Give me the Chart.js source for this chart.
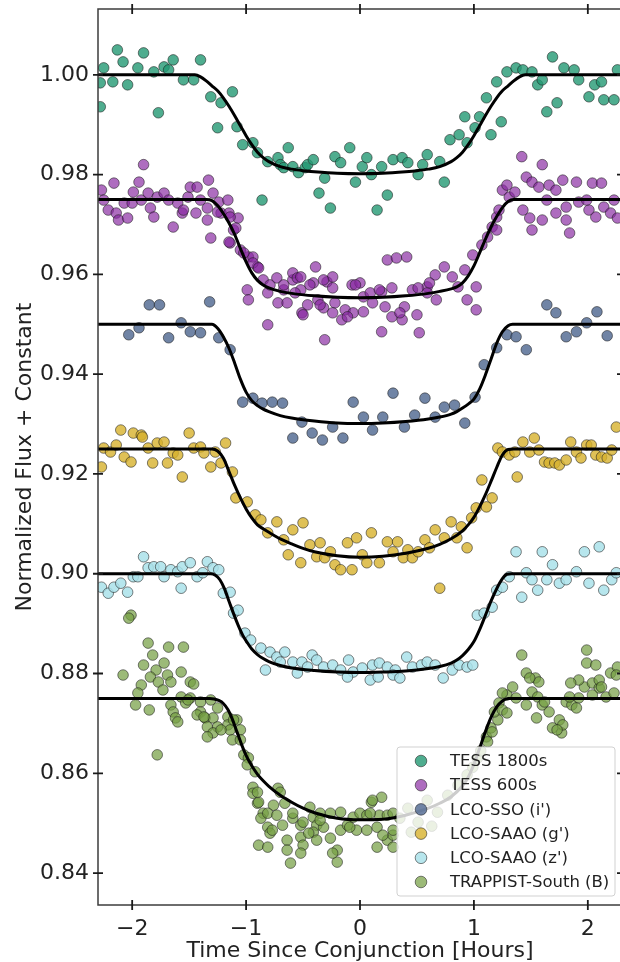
<!DOCTYPE html>
<html><head><meta charset="utf-8">
<script src="https://cdn.jsdelivr.net/npm/chart.js@4.4.0/dist/chart.umd.min.js"></script>
<style>
html,body{margin:0;padding:0;background:#fff;overflow:hidden;width:620px;height:962px}
#wrap{position:absolute;left:0;top:0;width:650px;height:962px}
</style></head>
<body><div id="wrap"><canvas id="c" width="650" height="962"></canvas></div>
<script>
const xTicks = [-2, -1, 0, 1, 2];
const yTicks = [0.84, 0.86, 0.88, 0.90, 0.92, 0.94, 0.96, 0.98, 1.00];
const xRange = [-2.3, 2.3];
const yRange = [0.8336, 1.0132];
const xTitle = 'Time Since Conjunction [Hours]';
const yTitle = 'Normalized Flux + Constant';
const seriesLabels = ['TESS 1800s', 'TESS 600s', 'LCO-SSO (i\')', 'LCO-SAAO (g\')', 'LCO-SAAO (z\')', 'TRAPPIST-South (B)'];

const tess1800 = [[-2.28,0.9936],[-2.28,0.9984],[-2.25,1.0014],[-2.17,0.9986],[-2.13,1.0050],[-2.08,1.0026],[-2.04,0.9980],[-1.95,1.0014],[-1.90,1.0044],[-1.81,1.0006],[-1.77,0.9924],[-1.72,1.0016],[-1.68,1.0010],[-1.64,1.0030],[-1.55,0.9990],[-1.46,0.9990],[-1.40,1.0030],[-1.31,0.9956],[-1.25,0.9894],[-1.22,0.9944],[-1.12,0.9966],[-1.08,0.9896],[-1.03,0.9860],[-0.94,0.9864],[-0.90,0.9844],[-0.86,0.9749],[-0.81,0.9826],[-0.72,0.9834],[-0.70,0.9820],[-0.67,0.9814],[-0.63,0.9854],[-0.59,0.9816],[-0.54,0.9804],[-0.48,0.9814],[-0.46,0.9820],[-0.41,0.9830],[-0.36,0.9763],[-0.31,0.9793],[-0.26,0.9733],[-0.22,0.9836],[-0.17,0.9824],[-0.09,0.9854],[-0.04,0.9785],[0.02,0.9816],[0.06,0.9834],[0.10,0.9800],[0.15,0.9729],[0.19,0.9816],[0.24,0.9759],[0.29,0.9830],[0.37,0.9834],[0.42,0.9824],[0.51,0.9800],[0.55,0.9820],[0.59,0.9840],[0.70,0.9826],[0.74,0.9785],[0.79,0.9870],[0.87,0.9880],[0.92,0.9916],[0.94,0.9864],[1.01,0.9894],[1.05,0.9916],[1.11,0.9954],[1.15,0.9880],[1.20,0.9986],[1.24,0.9906],[1.29,1.0006],[1.37,1.0014],[1.43,1.0010],[1.51,1.0006],[1.56,0.9980],[1.60,0.9990],[1.64,0.9926],[1.69,1.0036],[1.73,0.9944],[1.79,1.0014],[1.88,1.0010],[1.92,0.9990],[2.01,0.9956],[2.06,0.9980],[2.12,0.9986],[2.14,0.9950],[2.23,0.9950],[2.26,1.0010]];

const tess600 = [[-1.90,0.9820],[-2.27,0.9769],[-2.16,0.9783],[-2.25,0.9749],[-2.21,0.9729],[-2.14,0.9723],[-2.12,0.9709],[-2.04,0.9713],[-2.07,0.9743],[-1.99,0.9765],[-1.94,0.9785],[-2.00,0.9743],[-1.92,0.9749],[-1.86,0.9763],[-1.84,0.9733],[-1.81,0.9715],[-1.78,0.9755],[-1.72,0.9763],[-1.68,0.9749],[-1.64,0.9695],[-1.60,0.9743],[-1.56,0.9723],[-1.51,0.9755],[-1.49,0.9775],[-1.43,0.9775],[-1.40,0.9749],[-1.34,0.9733],[-1.33,0.9789],[-1.29,0.9763],[-1.24,0.9745],[-1.31,0.9673],[-1.22,0.9723],[-1.16,0.9749],[-1.15,0.9723],[-1.11,0.9689],[-1.07,0.9713],[-1.14,0.9663],[-1.05,0.9649],[-0.98,0.9635],[-0.94,0.9635],[-0.90,0.9615],[-0.99,0.9569],[-0.98,0.9549],[-0.85,0.9589],[-0.81,0.9563],[-0.79,0.9579],[-0.73,0.9593],[-0.67,0.9569],[-0.72,0.9543],[-0.64,0.9543],[-0.59,0.9589],[-0.52,0.9569],[-0.51,0.9523],[-0.46,0.9539],[-0.41,0.9583],[-0.39,0.9615],[-0.37,0.9549],[-1.55,0.9729],[-1.44,0.9723],[-1.34,0.9709],[-1.25,0.9725],[-1.14,0.9715],[-1.15,0.9665],[-1.09,0.9693],[-1.02,0.9643],[-0.94,0.9623],[-0.89,0.9613],[-0.59,0.9603],[-0.55,0.9593],[-0.67,0.9579],[-0.57,0.9563],[-0.50,0.9519],[-0.29,0.9585],[-0.24,0.9595],[-0.24,0.9573],[-0.32,0.9533],[-0.22,0.9543],[-0.16,0.9509],[-0.13,0.9529],[-0.06,0.9523],[-0.07,0.9579],[0.00,0.9583],[0.03,0.9555],[0.11,0.9543],[0.03,0.9525],[0.19,0.9565],[0.28,0.9573],[0.24,0.9629],[0.32,0.9633],[0.41,0.9635],[0.39,0.9535],[0.46,0.9569],[0.28,0.9515],[0.37,0.9509],[0.50,0.9519],[0.52,0.9483],[0.19,0.9485],[-0.81,0.9499],[-0.31,0.9469],[0.59,0.9575],[0.66,0.9599],[0.67,0.9549],[-0.52,0.9595],[-0.44,0.9579],[-0.32,0.9589],[-0.35,0.9539],[-0.24,0.9523],[-0.11,0.9515],[-0.04,0.9579],[0.09,0.9563],[0.17,0.9569],[0.22,0.9535],[0.35,0.9523],[0.51,0.9573],[0.59,0.9563],[0.61,0.9583],[0.74,0.9615],[0.81,0.9595],[0.86,0.9575],[0.92,0.9609],[0.99,0.9639],[1.02,0.9575],[0.94,0.9549],[1.02,0.9529],[1.07,0.9659],[1.12,0.9675],[1.16,0.9695],[1.20,0.9715],[1.22,0.9729],[1.20,0.9689],[1.25,0.9769],[1.31,0.9755],[1.29,0.9779],[1.36,0.9765],[1.42,0.9836],[1.46,0.9795],[1.51,0.9785],[1.60,0.9820],[1.57,0.9775],[1.66,0.9779],[1.72,0.9769],[1.78,0.9789],[1.64,0.9749],[1.43,0.9729],[1.49,0.9713],[1.51,0.9689],[1.60,0.9709],[1.72,0.9723],[1.81,0.9709],[1.84,0.9683],[1.81,0.9735],[1.90,0.9785],[1.92,0.9745],[2.04,0.9783],[2.12,0.9783],[2.01,0.9729],[2.07,0.9715],[2.14,0.9735],[2.20,0.9723],[2.23,0.9749],[2.26,0.9713],[1.99,0.9749]];

const lcoSSO = [[-1.85,0.9539],[-1.76,0.9539],[-1.32,0.9545],[-2.03,0.9479],[-1.94,0.9493],[-1.68,0.9473],[-1.57,0.9503],[-1.49,0.9485],[-1.40,0.9483],[-1.24,0.9473],[-1.14,0.9449],[-1.03,0.9344],[-0.94,0.9352],[-0.86,0.9342],[-0.77,0.9344],[-0.68,0.9342],[-0.59,0.9272],[-0.51,0.9304],[-0.42,0.9282],[-0.33,0.9268],[-0.24,0.9294],[-0.15,0.9272],[-0.06,0.9344],[0.03,0.9314],[0.11,0.9288],[0.20,0.9314],[0.29,0.9362],[0.39,0.9294],[0.48,0.9318],[0.57,0.9352],[0.66,0.9314],[0.74,0.9334],[0.83,0.9338],[0.92,0.9302],[1.01,0.9354],[1.09,0.9419],[1.20,0.9453],[1.29,0.9479],[1.37,0.9475],[1.46,0.9449],[1.64,0.9539],[1.72,0.9523],[1.81,0.9475],[1.90,0.9485],[1.99,0.9503],[2.08,0.9525],[2.17,0.9477]];

const saaoG = [[-2.27,0.9214],[-2.25,0.9252],[-2.19,0.9244],[-2.14,0.9258],[-2.10,0.9288],[-2.07,0.9234],[-2.01,0.9224],[-1.99,0.9282],[-1.92,0.9278],[-1.91,0.9274],[-1.86,0.9252],[-1.82,0.9222],[-1.78,0.9262],[-1.72,0.9264],[-1.69,0.9222],[-1.64,0.9242],[-1.60,0.9238],[-1.56,0.9194],[-1.50,0.9282],[-1.46,0.9252],[-1.40,0.9254],[-1.37,0.9242],[-1.31,0.9214],[-1.27,0.9244],[-1.22,0.9222],[-1.18,0.9262],[-1.12,0.9204],[-1.09,0.9152],[-0.99,0.9144],[-0.92,0.9118],[-0.87,0.9108],[-0.81,0.9082],[-0.73,0.9104],[-0.67,0.9068],[-0.63,0.9038],[-0.59,0.9088],[-0.52,0.9022],[-0.50,0.9102],[-0.44,0.9058],[-0.38,0.9034],[-0.35,0.9062],[-0.31,0.9032],[-0.26,0.9044],[-0.22,0.9018],[-0.17,0.9008],[-0.07,0.9008],[-0.11,0.9062],[-0.03,0.9072],[0.02,0.9038],[0.06,0.9022],[0.10,0.9082],[0.17,0.9022],[0.24,0.9064],[0.33,0.9064],[0.29,0.9044],[0.38,0.9032],[0.42,0.9048],[0.46,0.9032],[0.51,0.9044],[0.57,0.9068],[0.61,0.9052],[0.66,0.9088],[0.70,0.8971],[0.74,0.9072],[0.80,0.9104],[0.85,0.9072],[0.89,0.9094],[0.94,0.9052],[0.98,0.9112],[1.02,0.9132],[1.07,0.9188],[1.11,0.9134],[1.16,0.9152],[1.21,0.9252],[1.25,0.9244],[1.31,0.9238],[1.38,0.9194],[1.36,0.9244],[1.43,0.9264],[1.49,0.9244],[1.53,0.9272],[1.57,0.9248],[1.62,0.9224],[1.66,0.9222],[1.71,0.9222],[1.75,0.9218],[1.81,0.9228],[1.85,0.9264],[1.90,0.9244],[1.94,0.9232],[1.99,0.9258],[2.03,0.9258],[2.07,0.9238],[2.12,0.9234],[2.17,0.9232],[2.21,0.9248],[2.25,0.9294]];

const saaoZ = [[-2.27,0.8973],[-2.21,0.8961],[-2.16,0.8973],[-2.10,0.8981],[-2.04,0.8963],[-1.99,0.8994],[-1.95,0.8994],[-1.90,0.9034],[-1.86,0.9012],[-1.81,0.9014],[-1.75,0.9014],[-1.72,0.8994],[-1.66,0.9008],[-1.60,0.9004],[-1.56,0.9014],[-1.57,0.8971],[-1.49,0.9022],[-1.43,0.8994],[-1.38,0.9002],[-1.34,0.9024],[-1.29,0.9012],[-1.24,0.9008],[-1.20,0.8961],[-1.14,0.8963],[-1.11,0.8921],[-1.07,0.8927],[-1.01,0.8881],[-0.96,0.8867],[-0.87,0.8851],[-0.79,0.8843],[-0.83,0.8807],[-0.73,0.8833],[-0.66,0.8843],[-0.70,0.8823],[-0.59,0.8823],[-0.51,0.8823],[-0.42,0.8837],[-0.38,0.8827],[-0.46,0.8813],[-0.55,0.8801],[-0.32,0.8813],[-0.24,0.8817],[-0.10,0.8827],[-0.17,0.8807],[-0.06,0.8803],[0.02,0.8811],[0.11,0.8817],[0.17,0.8821],[0.24,0.8813],[0.31,0.8807],[0.41,0.8833],[0.46,0.8813],[0.54,0.8817],[0.59,0.8823],[0.66,0.8817],[-0.11,0.8793],[0.09,0.8787],[0.16,0.8793],[0.29,0.8797],[0.35,0.8791],[0.73,0.8791],[0.81,0.8807],[0.87,0.8817],[0.94,0.8813],[0.99,0.8817],[1.03,0.8917],[1.09,0.8921],[1.16,0.8933],[1.20,0.8967],[1.25,0.8973],[1.31,0.8994],[1.37,0.9044],[1.42,0.8953],[1.46,0.9002],[1.51,0.8988],[1.56,0.8967],[1.60,0.9044],[1.64,0.8988],[1.69,0.9018],[1.75,0.8981],[1.81,0.8988],[1.90,0.9004],[1.97,0.9044],[2.01,0.8981],[2.10,0.9054],[2.14,0.8967],[2.21,0.8988],[2.25,0.9002]];

const trappistB = [[-2.01,0.8917],[-2.03,0.8911],[-2.08,0.8797],[-1.86,0.8861],[-1.68,0.8853],[-1.55,0.8853],[-1.82,0.8837],[-1.90,0.8817],[-1.72,0.8821],[-1.79,0.8807],[-1.57,0.8803],[-1.84,0.8793],[-1.69,0.8797],[-1.77,0.8783],[-1.66,0.8783],[-1.49,0.8783],[-1.46,0.8779],[-1.92,0.8777],[-1.73,0.8767],[-1.95,0.8761],[-1.57,0.8753],[-1.49,0.8751],[-1.40,0.8743],[-1.31,0.8747],[-1.97,0.8737],[-1.66,0.8737],[-1.53,0.8741],[-1.85,0.8727],[-1.64,0.8723],[-1.40,0.8723],[-1.25,0.8731],[-1.62,0.8711],[-1.60,0.8703],[-1.43,0.8717],[-1.36,0.8711],[-1.29,0.8711],[-1.16,0.8713],[-1.08,0.8707],[-1.34,0.8693],[-1.25,0.8693],[-1.16,0.8697],[-1.29,0.8681],[-1.34,0.8673],[-1.14,0.8687],[-1.05,0.8687],[-1.12,0.8667],[-1.05,0.8667],[-1.78,0.8637],[-1.02,0.8637],[-0.98,0.8631],[-0.99,0.8617],[-0.92,0.8603],[-1.51,0.8747],[-1.22,0.8687],[-1.11,0.8707],[-1.37,0.8713],[-0.94,0.8572],[-0.94,0.8560],[-0.90,0.8540],[-0.72,0.8570],[-0.66,0.8540],[-0.85,0.8520],[-0.76,0.8536],[-0.87,0.8510],[-0.81,0.8492],[-0.79,0.8480],[-0.68,0.8496],[-0.59,0.8510],[-0.52,0.8496],[-0.44,0.8532],[-0.50,0.8502],[-0.41,0.8512],[-0.35,0.8520],[-0.26,0.8520],[-0.38,0.8496],[-0.32,0.8492],[-0.41,0.8482],[-0.52,0.8472],[-0.64,0.8466],[-0.89,0.8456],[-0.81,0.8452],[-0.64,0.8446],[-0.50,0.8456],[-0.52,0.8440],[-0.61,0.8420],[-0.38,0.8466],[-0.26,0.8470],[-0.20,0.8446],[-0.20,0.8422],[-0.17,0.8486],[-0.11,0.8496],[-0.06,0.8512],[0.00,0.8520],[0.06,0.8516],[-0.03,0.8486],[0.06,0.8486],[0.15,0.8492],[0.17,0.8516],[0.10,0.8542],[0.19,0.8552],[0.24,0.8516],[0.29,0.8520],[0.24,0.8466],[0.29,0.8452],[0.15,0.8452],[0.29,0.8476],[-0.81,0.8520],[-0.73,0.8516],[-0.70,0.8562],[-0.59,0.8520],[-0.45,0.8480],[-0.89,0.8542],[-0.90,0.8562],[-0.77,0.8486],[0.11,0.8546],[-0.24,0.8440],[-0.35,0.8506],[-0.17,0.8522],[-0.09,0.8492],[0.09,0.8520],[0.20,0.8476],[0.29,0.8486],[0.35,0.8510],[0.42,0.8530],[0.51,0.8502],[0.59,0.8546],[0.68,0.8522],[0.77,0.8556],[0.86,0.8576],[0.94,0.8597],[0.45,0.8482],[0.63,0.8494],[0.99,0.8612],[1.03,0.8630],[1.06,0.8645],[1.11,0.8673],[1.12,0.8663],[1.15,0.8691],[1.16,0.8683],[1.21,0.8707],[1.18,0.8723],[1.22,0.8741],[1.29,0.8757],[1.25,0.8727],[1.25,0.8761],[1.29,0.8721],[1.34,0.8773],[1.37,0.8751],[1.42,0.8837],[1.46,0.8801],[1.54,0.8791],[1.51,0.8763],[1.56,0.8753],[1.46,0.8737],[1.55,0.8711],[1.60,0.8737],[1.66,0.8723],[1.75,0.8707],[1.69,0.8691],[1.77,0.8681],[1.78,0.8697],[1.73,0.8687],[1.81,0.8743],[1.86,0.8737],[1.92,0.8751],[1.97,0.8773],[2.04,0.8781],[2.10,0.8771],[1.99,0.8847],[1.99,0.8821],[2.07,0.8817],[2.16,0.8753],[2.20,0.8801],[2.26,0.8813],[1.92,0.8787],[1.85,0.8781],[1.90,0.8731],[2.04,0.8757],[2.10,0.8787],[1.57,0.8783],[1.62,0.8743],[1.84,0.8753],[2.12,0.8773],[2.23,0.8761],[2.25,0.8797],[1.49,0.8791]];

const modelTess1800 = [[-2.3,1.0],[-1.45,1.0],[-1.40,0.9996],[-1.35,0.9988],[-1.30,0.9978],[-1.25,0.9968],[-1.20,0.9954],[-1.15,0.9937],[-1.10,0.9918],[-1.05,0.9898],[-1.00,0.9878],[-0.95,0.9860],[-0.90,0.9845],[-0.85,0.9834],[-0.80,0.9826],[-0.70,0.9816],[-0.60,0.9811],[-0.50,0.9808],[-0.40,0.9806],[-0.20,0.9803],[0,0.9802],[0.20,0.9803],[0.40,0.9806],[0.50,0.9808],[0.60,0.9811],[0.70,0.9816],[0.80,0.9826],[0.85,0.9834],[0.90,0.9845],[0.95,0.9860],[1.00,0.9878],[1.05,0.9898],[1.10,0.9918],[1.15,0.9937],[1.20,0.9954],[1.25,0.9968],[1.30,0.9978],[1.35,0.9988],[1.40,0.9996],[1.45,1.0],[2.3,1.0]];
const modelTess600 = [[-2.3,0.975],[-1.35,0.975],[-1.30,0.9748],[-1.25,0.9738],[-1.20,0.9722],[-1.15,0.9703],[-1.10,0.9680],[-1.05,0.9652],[-1.00,0.9625],[-0.95,0.9603],[-0.90,0.9588],[-0.85,0.9579],[-0.80,0.9573],[-0.70,0.9566],[-0.60,0.9562],[-0.40,0.9557],[-0.20,0.9554],[0,0.9553],[0.20,0.9554],[0.40,0.9557],[0.60,0.9562],[0.70,0.9566],[0.80,0.9571],[0.85,0.9575],[0.90,0.9583],[0.95,0.9597],[1.00,0.9617],[1.05,0.9643],[1.10,0.9670],[1.15,0.9695],[1.20,0.9716],[1.25,0.9734],[1.30,0.9746],[1.35,0.9750],[2.3,0.975]];
const modelSSO = [[-2.3,0.950],[-1.30,0.9500],[-1.25,0.9492],[-1.20,0.9475],[-1.15,0.9452],[-1.10,0.9422],[-1.05,0.9390],[-1.00,0.9364],[-0.95,0.9347],[-0.90,0.9337],[-0.85,0.9330],[-0.80,0.9325],[-0.70,0.9317],[-0.60,0.9312],[-0.40,0.9306],[-0.20,0.9302],[0,0.9301],[0.20,0.9302],[0.40,0.9305],[0.60,0.9310],[0.70,0.9314],[0.80,0.9320],[0.85,0.9325],[0.90,0.9332],[0.95,0.9340],[1.00,0.9350],[1.05,0.9370],[1.10,0.9398],[1.15,0.9430],[1.20,0.9462],[1.25,0.9485],[1.30,0.9497],[1.34,0.9500],[2.3,0.950]];
const modelG = [[-2.3,0.925],[-1.30,0.9250],[-1.25,0.9246],[-1.20,0.9232],[-1.15,0.9205],[-1.10,0.9177],[-1.05,0.9152],[-1.00,0.9130],[-0.95,0.9112],[-0.90,0.9098],[-0.85,0.9090],[-0.80,0.9083],[-0.70,0.9070],[-0.60,0.9060],[-0.50,0.9051],[-0.40,0.9044],[-0.20,0.9036],[0,0.9033],[0.20,0.9035],[0.40,0.9041],[0.60,0.9051],[0.70,0.9059],[0.80,0.9070],[0.90,0.9086],[0.95,0.9098],[1.00,0.9113],[1.05,0.9134],[1.10,0.9158],[1.15,0.9185],[1.20,0.9213],[1.25,0.9238],[1.30,0.9249],[1.35,0.9250],[2.3,0.925]];
const modelZ = [[-2.3,0.900],[-1.31,0.9000],[-1.27,0.8997],[-1.23,0.8988],[-1.19,0.8970],[-1.15,0.8945],[-1.11,0.8920],[-1.07,0.8897],[-1.03,0.8877],[-0.99,0.8862],[-0.95,0.8849],[-0.90,0.8838],[-0.85,0.8830],[-0.80,0.8824],[-0.70,0.8816],[-0.60,0.8811],[-0.40,0.8806],[-0.20,0.8803],[0,0.8802],[0.20,0.8803],[0.40,0.8805],[0.60,0.8810],[0.70,0.8814],[0.80,0.8821],[0.85,0.8827],[0.90,0.8836],[0.95,0.8848],[1.00,0.8864],[1.05,0.8888],[1.10,0.8916],[1.15,0.8945],[1.20,0.8970],[1.25,0.8990],[1.29,0.8999],[1.33,0.9000],[2.3,0.900]];
const modelB = [[-2.3,0.875],[-1.32,0.8750],[-1.28,0.8749],[-1.24,0.8746],[-1.20,0.8740],[-1.16,0.8728],[-1.12,0.8708],[-1.08,0.8683],[-1.04,0.8658],[-1.00,0.8636],[-0.95,0.8615],[-0.90,0.8598],[-0.85,0.8585],[-0.80,0.8574],[-0.70,0.8556],[-0.60,0.8542],[-0.50,0.8530],[-0.40,0.8521],[-0.20,0.8510],[0,0.8507],[0.20,0.8508],[0.40,0.8516],[0.60,0.8530],[0.70,0.8540],[0.80,0.8553],[0.90,0.8575],[0.95,0.8592],[1.00,0.8618],[1.05,0.8650],[1.10,0.8683],[1.15,0.8712],[1.20,0.8733],[1.25,0.8745],[1.30,0.8750],[1.34,0.8750],[2.3,0.875]];

const FONT = "'DejaVu Sans', sans-serif";
const fills = ['rgba(35,152,115,0.8)','rgba(135,40,160,0.68)','rgba(80,105,145,0.82)','rgba(215,178,45,0.8)','rgba(170,226,234,0.85)','rgba(118,160,68,0.72)'];
const edges = 'rgba(25,25,25,0.6)';
const seriesData = [tess1800, tess600, lcoSSO, saaoG, saaoZ, trappistB];
const modelData = [modelTess1800, modelTess600, modelSSO, modelG, modelZ, modelB];
const toPts = arr => arr.map(p => ({x: p[0], y: p[1]}));

const datasets = [];
seriesData.forEach((s, i) => datasets.push({
  type: 'scatter', label: seriesLabels[i], data: toPts(s), order: 1, clip: 0,
  pointRadius: 5.3, pointHoverRadius: 5.3, pointBackgroundColor: fills[i],
  pointBorderColor: edges, pointBorderWidth: 0.9, showLine: false
}));
modelData.forEach((m, i) => datasets.push({
  type: 'line', label: 'model' + i, data: toPts(m), order: 0, clip: 0,
  borderColor: '#000', borderWidth: 3, pointRadius: 0, fill: false,
  cubicInterpolationMode: 'monotone', showLine: true
}));

const fmtX = v => (v < 0 ? '\u2212' : '') + Math.abs(v);

const framePlugin = {
  id: 'frame',
  afterDraw(chart) {
    const {ctx, chartArea: a, scales: {x, y}} = chart;
    ctx.save();
    ctx.strokeStyle = '#3c3c3c'; ctx.lineWidth = 1.5;
    ctx.strokeRect(a.left, a.top, a.right - a.left, a.bottom - a.top);
    ctx.strokeStyle = '#1a1a1a'; ctx.lineWidth = 1.8;
    ctx.beginPath();
    xTicks.forEach(v => { const px = x.getPixelForValue(v);
      ctx.moveTo(px, a.bottom - 5); ctx.lineTo(px, a.bottom + 5);
      ctx.moveTo(px, a.top - 5); ctx.lineTo(px, a.top + 5); });
    yTicks.forEach(v => { const py = y.getPixelForValue(v);
      ctx.moveTo(a.left - 5, py); ctx.lineTo(a.left + 5, py);
      ctx.moveTo(a.right - 5, py); ctx.lineTo(a.right + 5, py); });
    ctx.stroke();
    // legend
    const w = 218, h = 149;
    const L = a.right - 7 - w, T = a.bottom - 9 - h;
    ctx.beginPath();
    if (ctx.roundRect) ctx.roundRect(L, T, w, h, 3); else ctx.rect(L, T, w, h);
    ctx.fillStyle = 'rgba(255,255,255,0.8)'; ctx.fill();
    ctx.strokeStyle = 'rgba(204,204,204,0.9)'; ctx.lineWidth = 1; ctx.stroke();
    ctx.font = '16.5px ' + FONT; ctx.textBaseline = 'middle'; ctx.textAlign = 'left';
    seriesLabels.forEach((lab, i) => {
      const cy = T + 14 + i * 24.2;
      ctx.beginPath(); ctx.arc(L + 24, cy, 5.8, 0, Math.PI * 2);
      ctx.fillStyle = fills[i]; ctx.fill();
      ctx.strokeStyle = edges; ctx.lineWidth = 0.9; ctx.stroke();
      ctx.fillStyle = '#222'; ctx.fillText(lab, L + 53, cy + 1);
    });
    ctx.restore();
  }
};

const zeroPad = s => { s.paddingLeft = 0; s.paddingRight = 0; s.paddingTop = 0; s.paddingBottom = 0; };

new Chart(document.getElementById('c'), {
  type: 'scatter',
  data: {datasets},
  options: {
    responsive: false, animation: false, devicePixelRatio: 1, events: [],
    layout: {padding: {left: 0, top: 9, right: 28, bottom: 0}},
    plugins: {legend: {display: false}, tooltip: {enabled: false}},
    scales: {
      x: {
        type: 'linear', position: 'bottom', min: xRange[0], max: xRange[1],
        afterBuildTicks: s => { s.ticks = xTicks.map(v => ({value: v})); },
        afterFit: s => { s.height = 57; zeroPad(s); },
        ticks: {font: {family: FONT, size: 22}, color: '#222', padding: 6, maxRotation: 0, autoSkip: false, callback: v => fmtX(v)},
        grid: {display: true, drawOnChartArea: false, drawTicks: true, tickLength: 5, color: 'rgba(0,0,0,0)'},
        border: {display: false},
        title: {display: true, text: xTitle, font: {family: FONT, size: 22}, color: '#222', padding: {top: 0, bottom: -2}}
      },
      y: {
        type: 'linear', position: 'left', min: yRange[0], max: yRange[1],
        afterBuildTicks: s => { s.ticks = yTicks.map(v => ({value: v})); },
        afterFit: s => { s.width = 98; zeroPad(s); },
        ticks: {font: {family: FONT, size: 22}, color: '#222', padding: 4, autoSkip: false, callback: v => v.toFixed(2)},
        grid: {display: true, drawOnChartArea: false, drawTicks: true, tickLength: 5, color: 'rgba(0,0,0,0)'},
        border: {display: false},
        title: {display: true, text: yTitle, font: {family: FONT, size: 22}, color: '#222', padding: {top: 12, bottom: 0}}
      }
    }
  },
  plugins: [framePlugin]
});
</script>
</body></html>
